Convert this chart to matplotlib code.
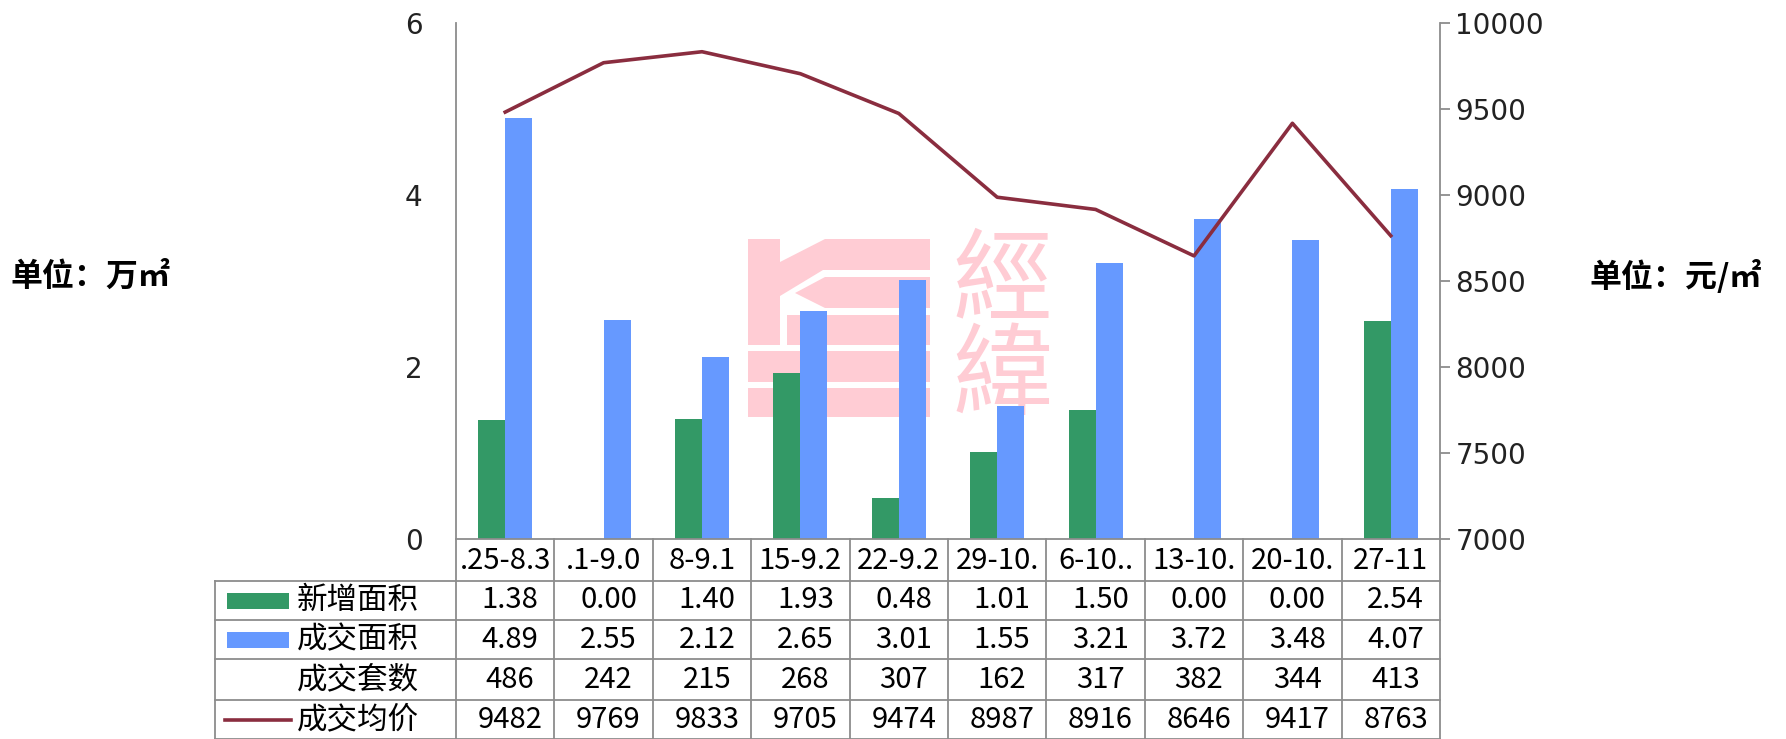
import matplotlib
matplotlib.use('Agg')
import matplotlib.pyplot as plt
import matplotlib.transforms as mtransforms
from matplotlib.patches import Rectangle, Polygon
import numpy as np

plt.rcParams['font.family'] = ['Noto Sans CJK SC', 'DejaVu Sans']

weeks = ['.25-8.3', '.1-9.0', '8-9.1', '15-9.2', '22-9.2',
         '29-10.', '6-10..', '13-10.', '20-10.', '27-11']
new_area = [1.38, 0.00, 1.40, 1.93, 0.48, 1.01, 1.50, 0.00, 0.00, 2.54]
deal_area = [4.89, 2.55, 2.12, 2.65, 3.01, 1.55, 3.21, 3.72, 3.48, 4.07]
deal_units = [486, 242, 215, 268, 307, 162, 317, 382, 344, 413]
avg_price = [9482, 9769, 9833, 9705, 9474, 8987, 8916, 8646, 9417, 8763]
row_names = ['新增面积', '成交面积', '成交套数', '成交均价']

GREEN = '#339966'
BLUE = '#6699FF'
RED = '#8A2D3F'
GRID = '#8C8C8C'
PINK = '#FFCCD4'

W, H = 1786, 739
fig = plt.figure(figsize=(W / 100, H / 100), dpi=100)

# background layer in pixel coords (table + watermark)
bg = fig.add_axes([0, 0, 1, 1], zorder=0)
bg.set_xlim(0, W)
bg.set_ylim(H, 0)
bg.axis('off')

# watermark logo
wm = [
    [(748, 239), (780, 239), (780, 262), (825, 239), (930, 239), (930, 270),
     (823, 270), (780, 296), (780, 345), (748, 345)],
    [(795, 293), (825, 277), (930, 277), (930, 308), (825, 308)],
    [(787, 315), (930, 315), (930, 345), (787, 345)],
    [(748, 351), (930, 351), (930, 382), (748, 382)],
    [(748, 388), (930, 388), (930, 417), (748, 417)],
]
for pts in wm:
    bg.add_patch(Polygon(pts, closed=True, facecolor=PINK, edgecolor='none'))
bg.text(1002, 283, '經', fontsize=72, color=PINK, ha='center', va='center',
        family=['Noto Sans CJK TC'], fontweight='light')
bg.text(1002, 378, '緯', fontsize=72, color=PINK, ha='center', va='center',
        family=['Noto Sans CJK TC'], fontweight='light')

# main axes
left, right, top, bottom = 456, 1440, 23, 539
ax = fig.add_axes([left / W, 1 - bottom / H, (right - left) / W, (bottom - top) / H], zorder=2)
ax.patch.set_visible(False)
x = np.arange(len(weeks))
bw = 0.275
ax.bar(x - bw / 2, new_area, bw, color=GREEN, zorder=2)
ax.bar(x + bw / 2, deal_area, bw, color=BLUE, zorder=2)
ax.set_xlim(-0.5, len(weeks) - 0.5)
ax.set_ylim(0, 6)
ax.set_yticks([0, 2, 4, 6])
ax.set_xticks([])
for s in ['top', 'right']:
    ax.spines[s].set_visible(False)
for s in ['left', 'bottom']:
    ax.spines[s].set_color(GRID)
    ax.spines[s].set_linewidth(1.3)
ax.tick_params(axis='y', length=0, pad=24, labelsize=20, colors='#222222')
for lab in ax.get_yticklabels():
    lab.set_family('DejaVu Sans')

ax2 = ax.twinx()
ax2.patch.set_visible(False)
ax2.plot(x, avg_price, color=RED, lw=2.6, zorder=3)
ax2.set_ylim(7000, 10000)
ax2.set_yticks(np.arange(7000, 10001, 500))
for s in ['top', 'left', 'bottom']:
    ax2.spines[s].set_visible(False)
ax2.spines['right'].set_color(GRID)
ax2.spines['right'].set_linewidth(1.3)
ax2.tick_params(axis='y', length=7, width=1.3, color=GRID, pad=4, labelsize=20,
                labelcolor='#222222')
for lab in ax2.get_yticklabels():
    lab.set_family('DejaVu Sans')

# unit labels
fig.text(10 / W, 1 - 277 / H, '单位：万㎡', fontsize=23, fontweight='bold',
         ha='left', va='center')
fig.text(1589 / W, 1 - 277 / H, '单位：元/㎡', fontsize=23, fontweight='bold',
         ha='left', va='center')

# data table under the chart
tr = mtransforms.blended_transform_factory(ax.transData, bg.transData)
row_y = [539, 581, 620, 659, 700, 739]
tleft = 215
lk = dict(color=GRID, lw=1.3)

# horizontal lines
for yy in row_y[1:]:
    bg.plot([tleft, right], [yy, yy], **lk)
# vertical lines
bg.plot([tleft, tleft], [row_y[1], row_y[-1]], **lk)
for i in range(len(weeks) + 1):
    ax.plot([i - 0.5, i - 0.5], [row_y[0], row_y[-1]], transform=tr,
            clip_on=False, **lk)

# header (week) labels
for i, w in enumerate(weeks):
    ax.text(i, (row_y[0] + row_y[1]) / 2 + 1, w, transform=tr, ha='center',
            va='center', fontsize=21, clip_on=False)

# row labels with legend keys
for r, name in enumerate(row_names):
    yc = (row_y[r + 1] + row_y[r + 2]) / 2
    bg.text(297, yc, name, fontsize=22, ha='left', va='center')
    if r == 0:
        bg.add_patch(Rectangle((227, yc - 8), 62, 16, facecolor=GREEN, edgecolor='none'))
    elif r == 1:
        bg.add_patch(Rectangle((227, yc - 8), 62, 16, facecolor=BLUE, edgecolor='none'))
    elif r == 3:
        bg.plot([225, 291], [yc, yc], color=RED, lw=2.6)

rows = [
    ['%.2f' % v for v in new_area],
    ['%.2f' % v for v in deal_area],
    [str(v) for v in deal_units],
    [str(v) for v in avg_price],
]
for r, vals in enumerate(rows):
    yc = (row_y[r + 1] + row_y[r + 2]) / 2
    for i, v in enumerate(vals):
        ax.text(i + 0.05, yc, v, transform=tr, ha='center', va='center',
                fontsize=21, clip_on=False)

fig.savefig('out.png', dpi=100)
